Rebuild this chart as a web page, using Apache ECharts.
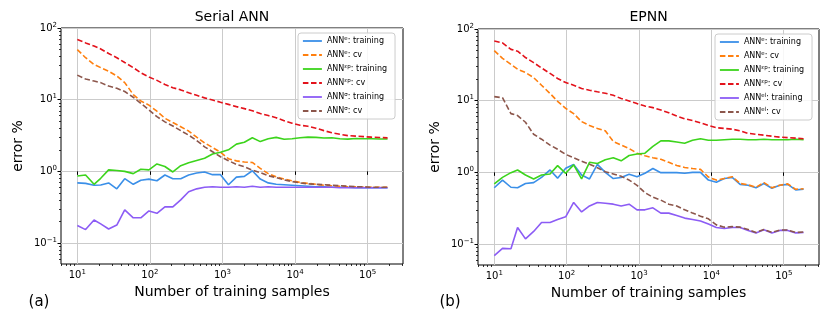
<!DOCTYPE html>
<html>
<head>
<meta charset="utf-8">
<script src="https://cdn.jsdelivr.net/npm/echarts@6/dist/echarts.min.js"></script>
<style>
  html, body { margin: 0; padding: 0; background: #fff; }
  #chart { width: 831px; height: 335px; }
</style>
</head>
<body>
<div id="chart"></div>
<script>
// training set sizes (same for both panels)
const sampleSizes = [10, 13, 17, 21, 27, 35, 45, 59, 75, 97, 125, 161, 207, 266, 342, 441, 567, 730, 939, 1209,
  1556, 2003, 2578, 3318, 4270, 5495, 7073, 9103, 11716, 15080, 19409, 24980, 32151, 41380, 53259, 68549, 88227,
  113555, 146153, 188107];

// (a) Serial ANN
const serialTrainE = [0.69, 0.68, 0.64, 0.645, 0.69, 0.57, 0.79, 0.66, 0.75, 0.78, 0.74, 0.89, 0.79, 0.79, 0.89,
  0.95, 0.98, 0.9, 0.9, 0.65, 0.83, 0.85, 1.02, 0.78, 0.69, 0.66, 0.65, 0.64, 0.63, 0.62, 0.61, 0.61, 0.6, 0.6,
  0.6, 0.59, 0.59, 0.59, 0.59, 0.59];
const serialCvE = [50, 38.5, 31, 28, 25, 21.4, 17.3, 11.8, 9.6, 8.4, 6.9, 5.5, 4.8, 4.2, 3.65, 3.0, 2.5, 2.15,
  1.85, 1.5, 1.4, 1.35, 1.33, 1.1, 0.93, 0.84, 0.78, 0.74, 0.7, 0.68, 0.66, 0.64, 0.63, 0.62, 0.61, 0.61, 0.6,
  0.6, 0.6, 0.6];
const serialTrainEp = [0.86, 0.89, 0.66, 0.8, 1.05, 1.03, 1.0, 0.93, 1.07, 1.05, 1.27, 1.17, 0.98, 1.2, 1.32,
  1.42, 1.52, 1.75, 1.85, 2.0, 2.4, 2.55, 2.95, 2.6, 2.85, 2.98, 2.8, 2.85, 2.95, 3.0, 2.98, 2.92, 2.95, 2.85,
  2.82, 2.88, 2.85, 2.85, 2.83, 2.83];
const serialCvEp = [69, 62, 56, 51, 44, 38.5, 33, 28, 23.7, 20.7, 18.6, 16.3, 14.7, 13.7, 12.5, 11.5, 10.6, 9.9,
  9.2, 8.6, 8.0, 7.5, 7.0, 6.4, 6.0, 5.6, 5.1, 4.7, 4.4, 4.25, 4.0, 3.7, 3.45, 3.3, 3.15, 3.1, 3.05, 3.0, 2.97,
  2.93];
const serialTrainS = [0.176, 0.154, 0.21, 0.185, 0.157, 0.178, 0.29, 0.225, 0.225, 0.28, 0.26, 0.32, 0.32, 0.4,
  0.52, 0.57, 0.6, 0.61, 0.6, 0.6, 0.61, 0.6, 0.62, 0.6, 0.61, 0.6, 0.6, 0.6, 0.6, 0.6, 0.6, 0.6, 0.6, 0.59,
  0.59, 0.59, 0.59, 0.59, 0.59, 0.59];
const serialCvS = [22, 19.4, 18.2, 17.3, 15.5, 14.4, 13, 10.8, 8.9, 7.2, 5.8, 4.9, 4.3, 3.7, 3.2, 2.7, 2.2, 1.88,
  1.6, 1.41, 1.25, 1.16, 1.04, 0.96, 0.87, 0.82, 0.76, 0.72, 0.69, 0.67, 0.66, 0.65, 0.64, 0.63, 0.62, 0.61,
  0.61, 0.6, 0.6, 0.6];

// (b) EPNN
const epnnTrainE = [0.61, 0.78, 0.62, 0.61, 0.7, 0.72, 0.85, 1.08, 0.83, 1.14, 1.29, 0.92, 0.81, 1.29, 1.0,
  0.82, 0.85, 0.94, 0.87, 0.97, 1.13, 0.99, 0.99, 0.99, 0.97, 1.0, 1.0, 0.78, 0.73, 0.82, 0.85, 0.68, 0.66,
  0.61, 0.7, 0.6, 0.66, 0.68, 0.57, 0.58];
const epnnCvE = [50, 39, 32, 27.5, 24.7, 21, 16.4, 12.6, 9.8, 7.8, 6.6, 5.1, 4.5, 4.1, 3.8, 2.7, 2.4, 2.15,
  1.85, 1.7, 1.6, 1.52, 1.38, 1.25, 1.17, 1.13, 1.1, 0.86, 0.78, 0.82, 0.87, 0.7, 0.67, 0.62, 0.72, 0.61, 0.66,
  0.69, 0.58, 0.59];
const epnnTrainEp = [0.69, 0.85, 0.99, 1.08, 0.92, 0.81, 0.92, 0.95, 1.24, 0.97, 1.27, 0.81, 1.38, 1.33, 1.5,
  1.6, 1.45, 1.72, 1.8, 1.85, 2.3, 2.75, 2.75, 2.65, 2.55, 2.8, 2.95, 2.8, 2.8, 2.85, 2.9, 2.9, 2.85, 2.85,
  2.9, 2.85, 2.85, 2.85, 2.9, 2.85];
const epnnCvEp = [68, 64, 52, 49, 40, 34, 28.6, 24, 20.4, 17.9, 16.4, 14.8, 14, 13.3, 12.7, 11.9, 10.7, 9.9,
  9.1, 8.4, 8.0, 7.4, 6.8, 6.1, 5.6, 5.3, 4.9, 4.5, 4.2, 4.1, 4.0, 3.8, 3.5, 3.4, 3.3, 3.2, 3.1, 3.05, 3.0,
  2.95];
const epnnTrainEl = [0.069, 0.087, 0.086, 0.17, 0.118, 0.15, 0.2, 0.2, 0.22, 0.24, 0.38, 0.28, 0.34, 0.38,
  0.37, 0.36, 0.34, 0.36, 0.3, 0.3, 0.32, 0.27, 0.27, 0.25, 0.23, 0.22, 0.21, 0.19, 0.17, 0.165, 0.17, 0.17,
  0.155, 0.143, 0.158, 0.143, 0.155, 0.155, 0.143, 0.145];
const epnnCvEl = [11.4, 11, 6.6, 6.2, 5.0, 3.4, 2.9, 2.4, 2.1, 1.78, 1.6, 1.43, 1.3, 1.16, 1.02, 0.95, 0.88,
  0.78, 0.66, 0.52, 0.45, 0.41, 0.36, 0.34, 0.3, 0.27, 0.245, 0.225, 0.185, 0.172, 0.175, 0.172, 0.16, 0.145,
  0.16, 0.145, 0.157, 0.157, 0.145, 0.147];

// axis tick exponents
const xTickExps = [1, 2, 3, 4, 5];
const yTickExps = [-1, 0, 1, 2];

const COLORS = {
  blue: '#3a8fe8', orange: '#ff7f0e', green: '#3cd41c',
  red: '#e3121b', purple: '#8c5cf5', brown: '#8c564b'
};
const FONT = 'DejaVu Sans';
const X_MIN = 5.96, X_MAX = 3.07e5;
const Y_MIN = 0.051, Y_MAX = 100;
const DASH = [5.5, 2.6];

const panels = [
  {
    title: 'Serial ANN', tag: '(a)',
    grid: { left: 61, top: 28, width: 342, height: 236 },
    legend: { left: 298, top: 33 },
    lines: [
      ['e', ': training', 'blue', false, serialTrainE],
      ['e', ': cv', 'orange', true, serialCvE],
      ['\u03b5p', ': training', 'green', false, serialTrainEp],
      ['\u03b5p', ': cv', 'red', true, serialCvEp],
      ['\u03c3', ': training', 'purple', false, serialTrainS],
      ['\u03c3', ': cv', 'brown', true, serialCvS]
    ]
  },
  {
    title: 'EPNN', tag: '(b)',
    grid: { left: 478, top: 29, width: 341, height: 236 },
    legend: { left: 715, top: 34 },
    lines: [
      ['e', ': training', 'blue', false, epnnTrainE],
      ['e', ': cv', 'orange', true, epnnCvE],
      ['\u03b5p', ': training', 'green', false, epnnTrainEp],
      ['\u03b5p', ': cv', 'red', true, epnnCvEp],
      ['el', ': training', 'purple', false, epnnTrainEl],
      ['el', ': cv', 'brown', true, epnnCvEl]
    ]
  }
];

function minorLogs(lo, hi) {
  const out = [];
  for (let e = Math.floor(lo); e <= Math.ceil(hi); e++) {
    for (let m = 2; m <= 9; m++) {
      const v = e + Math.log10(m);
      if (v > lo && v < hi) out.push(v);
    }
  }
  return out;
}

const powLabel = v => '{b|10}{s|' + (v < 0 ? '\u2212' + (-v) : v) + '}';
const tickRich = {
  b: { fontFamily: FONT, fontSize: 10, color: '#000' },
  s: { fontFamily: FONT, fontSize: 7, color: '#000', padding: [0, 0, 6, 0] }
};

const lxMin = Math.log10(X_MIN), lxMax = Math.log10(X_MAX);
const lyMin = Math.log10(Y_MIN), lyMax = Math.log10(Y_MAX);

const option = {
  animation: false,
  backgroundColor: '#fff',
  grid: [], xAxis: [], yAxis: [], legend: [], series: [], graphic: []
};
const legendText = {};

panels.forEach((p, pi) => {
  const g = p.grid;
  option.grid.push(Object.assign({
    show: true, borderColor: '#000', borderWidth: 1, backgroundColor: 'transparent',
    containLabel: false, outerBoundsMode: 'none'
  }, g));

  // log axes used by the series
  option.xAxis.push({ type: 'log', gridIndex: pi, min: X_MIN, max: X_MAX, show: false });
  option.yAxis.push({ type: 'log', gridIndex: pi, min: Y_MIN, max: Y_MAX, show: false });

  // major ticks, labels and grid lines (in decade units)
  option.xAxis.push({
    type: 'value', gridIndex: pi, position: 'bottom', min: lxMin, max: lxMax,
    axisLine: { show: false },
    axisTick: { show: true, customValues: xTickExps, length: 3.5, lineStyle: { color: '#000', width: 1 } },
    axisLabel: { customValues: xTickExps, formatter: powLabel, rich: tickRich, margin: 5, color: '#000' },
    splitLine: { show: true, lineStyle: { color: '#cbcbcb', width: 1 } },
    name: 'Number of training samples', nameLocation: 'middle', nameGap: 20,
    nameTextStyle: { fontFamily: FONT, fontSize: 14, color: '#000' }
  });
  option.yAxis.push({
    type: 'value', gridIndex: pi, position: 'left', min: lyMin, max: lyMax,
    axisLine: { show: false },
    axisTick: { show: true, customValues: yTickExps, length: 3.5, lineStyle: { color: '#000', width: 1 } },
    axisLabel: { customValues: yTickExps, formatter: powLabel, rich: tickRich, margin: 4, color: '#000' },
    splitLine: { show: true, lineStyle: { color: '#cbcbcb', width: 1 } },
    name: 'error %', nameLocation: 'middle', nameGap: 36, nameRotate: 90,
    nameTextStyle: { fontFamily: FONT, fontSize: 14, color: '#000' }
  });

  // minor ticks
  option.xAxis.push({
    type: 'value', gridIndex: pi, position: 'bottom', min: lxMin, max: lxMax,
    axisLine: { show: false }, splitLine: { show: false }, axisLabel: { show: false },
    axisTick: { show: true, customValues: minorLogs(lxMin, lxMax), length: 2, lineStyle: { color: '#000', width: 0.8 } }
  });
  option.yAxis.push({
    type: 'value', gridIndex: pi, position: 'left', min: lyMin, max: lyMax,
    axisLine: { show: false }, splitLine: { show: false }, axisLabel: { show: false },
    axisTick: { show: true, customValues: minorLogs(lyMin, lyMax), length: 2, lineStyle: { color: '#000', width: 0.8 } }
  });

  const names = [];
  p.lines.forEach(([sup, suffix, color, dashed, values], li) => {
    const name = 'p' + pi + 's' + li;
    names.push(name);
    legendText[name] = '{n|ANN}{s|' + sup + '}{n|' + suffix + '}';
    option.series.push({
      type: 'line', name: name,
      xAxisIndex: pi * 3, yAxisIndex: pi * 3,
      data: sampleSizes.map((x, i) => [x, values[i]]),
      symbol: 'none', showSymbol: false,
      lineStyle: { color: COLORS[color], width: 1.6, type: dashed ? DASH : 'solid' },
      itemStyle: { color: COLORS[color] },
      z: 3
    });
  });

  option.legend.push({
    data: names, orient: 'vertical', left: p.legend.left, top: p.legend.top,
    itemWidth: 19, itemHeight: 10, itemGap: 4,
    padding: [3, 8, 3, 4],
    backgroundColor: 'rgba(255,255,255,0.85)', borderColor: '#cccccc', borderWidth: 1, borderRadius: 3,
    itemStyle: { opacity: 0 },
    lineStyle: { width: 1.8 },
    formatter: name => legendText[name],
    textStyle: {
      fontFamily: FONT, fontSize: 8, color: '#000', lineHeight: 10,
      rich: {
        n: { fontFamily: FONT, fontSize: 8, color: '#000', lineHeight: 10 },
        s: { fontFamily: FONT, fontSize: 5.5, color: '#000', lineHeight: 10, padding: [0, 0, 4, 0] }
      }
    }
  });

  option.graphic.push({
    type: 'text', x: g.left + g.width / 2, y: 17,
    style: { text: p.title, fontFamily: FONT, fontSize: 14, fill: '#000', align: 'center', verticalAlign: 'middle' }
  });
  option.graphic.push({
    type: 'text', x: pi === 0 ? 39 : 450, y: 302,
    style: { text: p.tag, fontFamily: FONT, fontSize: 15, fill: '#000', align: 'center', verticalAlign: 'middle' }
  });
});

const chart = echarts.init(document.getElementById('chart'));
chart.setOption(option);
</script>
</body>
</html>
